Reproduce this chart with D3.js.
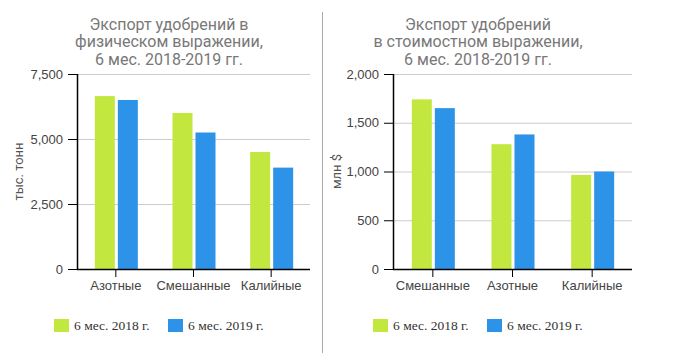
<!DOCTYPE html>
<html>
<head>
<meta charset="utf-8">
<script src="https://cdn.jsdelivr.net/npm/d3@7"></script>
<style>
  body { margin: 0; background: #fff; }
  svg { display: block; font-family: Roboto, sans-serif; }
  .title { fill: #787878; font-size: 16px; }
  .tick text { fill: #444; font-size: 13px; }
  .grid line { stroke: #ccc; }
  .legend text { font-family: "Liberation Serif", serif; font-size: 13.5px; fill: #333; }
</style>
</head>
<body>
<div id="chart"></div>
<script>
// data
var seriesNames = ["6 мес. 2018 г.", "6 мес. 2019 г."];
var colors = ["#c2e83f", "#2d93e8"];

var volumeCategories = ["Азотные", "Смешанные", "Калийные"];
var volume2018 = [6650, 6000, 4500];
var volume2019 = [6500, 5250, 3900];
var volumeTicks = [0, 2500, 5000, 7500];

var valueCategories = ["Смешанные", "Азотные", "Калийные"];
var value2018 = [1740, 1280, 965];
var value2019 = [1650, 1380, 1000];
var valueTicks = [0, 500, 1000, 1500, 2000];

var svg = d3.select("#chart").append("svg")
    .attr("width", 676)
    .attr("height", 353);

// separator
svg.append("line")
    .attr("x1", 322.5).attr("x2", 322.5)
    .attr("y1", 12).attr("y2", 353)
    .attr("stroke", "#aaa");

function drawChart(opt){

    var g = svg.append("g");

    var x = d3.scaleBand()
              .domain(opt.categories)
              .range([opt.left, opt.right]);

    var y = d3.scaleLinear()
              .domain([0, d3.max(opt.ticks)])
              .range([opt.bottom, opt.top]);

    // title
    var title = g.append("text")
                 .attr("class", "title")
                 .attr("text-anchor", "middle");
    opt.title.forEach((t, i) => {
        title.append("tspan")
             .attr("x", opt.titleX)
             .attr("y", 29.5 + i * 17.5)
             .text(t);
    });

    // grid
    g.append("g")
      .attr("class", "grid")
      .selectAll("line")
      .data(opt.ticks.slice(1))
      .enter().append("line")
      .attr("x1", opt.left).attr("x2", opt.right)
      .attr("y1", d => y(d) + 0.5).attr("y2", d => y(d) + 0.5);

    // bars, two per category
    opt.values.forEach((vals, s) => {
        g.append("g")
          .selectAll("rect")
          .data(vals)
          .enter().append("rect")
          .attr("x", (d, i) => x(opt.categories[i]) + x.bandwidth() / 2 - 21 + s * 23)
          .attr("width", 20)
          .attr("y", d => y(d))
          .attr("height", d => y(0) - y(d))
          .attr("fill", colors[s]);
    });

    // axes
    g.append("g")
      .attr("transform", "translate(" + opt.left + ",0)")
      .call(d3.axisLeft(y)
              .tickValues(opt.ticks)
              .tickSize(9)
              .tickPadding(5)
              .tickFormat(d3.format(",")))
      .call(a => a.select(".domain").attr("d", "M0.5," + opt.top + "V" + (opt.bottom + 0.5)));

    g.append("g")
      .attr("transform", "translate(0," + opt.bottom + ")")
      .call(d3.axisBottom(x).tickSize(8).tickPadding(4).tickSizeOuter(0))
      .call(a => a.select(".domain").attr("d", "M" + opt.left + ",0.5H" + opt.right));

    g.selectAll(".tick line").attr("stroke", "#000");
    g.selectAll(".domain").attr("stroke", "#000").attr("stroke-width", 1.5);

    // y title
    g.append("text")
      .attr("transform", "translate(" + opt.yTitleX + "," + (opt.top + opt.bottom) / 2 + ") rotate(-90)")
      .attr("text-anchor", "middle")
      .attr("dy", "0.35em")
      .attr("fill", "#555")
      .style("font-size", "13px")
      .text(opt.yTitle);

    // legend
    var leg = g.append("g").attr("class", "legend");
    seriesNames.forEach((name, s) => {
        var lx = opt.legendX[s];
        leg.append("rect")
           .attr("x", lx).attr("y", 319)
           .attr("width", 15).attr("height", 13)
           .attr("fill", colors[s]);
        leg.append("text")
           .attr("x", lx + 20).attr("y", 330)
           .text(name);
    });
}

drawChart({
    categories: volumeCategories,
    values: [volume2018, volume2019],
    ticks: volumeTicks,
    left: 77, right: 310, top: 74, bottom: 269,
    title: ["Экспорт удобрений в", "физическом выражении,", "6 мес. 2018-2019 гг."],
    titleX: 169,
    yTitle: "тыс. тонн",
    yTitleX: 18,
    legendX: [54, 168]
});

drawChart({
    categories: valueCategories,
    values: [value2018, value2019],
    ticks: valueTicks,
    left: 393, right: 632, top: 74, bottom: 269,
    title: ["Экспорт удобрений", "в стоимостном выражении,", "6 мес. 2018-2019 гг."],
    titleX: 478,
    yTitle: "млн $",
    yTitleX: 336,
    legendX: [373, 487]
});
</script>
</body>
</html>
